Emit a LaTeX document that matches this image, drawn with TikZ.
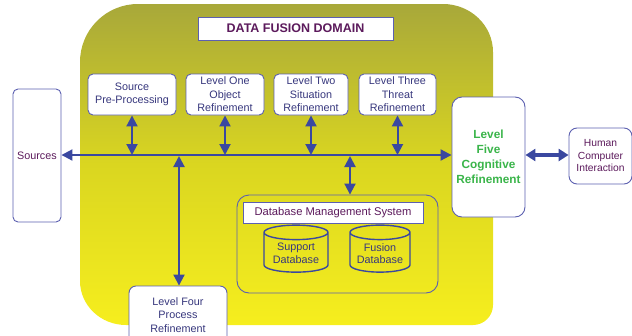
\documentclass[tikz,border=0pt]{standalone}
\usepackage{fontspec}
\setmainfont{Liberation Sans}
\usetikzlibrary{arrows.meta,shapes.geometric}
\definecolor{arrblue}{RGB}{58,72,160}
\definecolor{bordblue}{RGB}{92,96,176}
\definecolor{txtnavy}{RGB}{55,55,125}
\definecolor{ttlpurple}{RGB}{92,26,92}
\definecolor{lvgreen}{RGB}{58,181,74}
\definecolor{olive}{RGB}{168,168,58}
\definecolor{midyel}{RGB}{218,214,32}
\definecolor{brightyel}{RGB}{246,238,30}
\tikzset{
  box/.style={draw=bordblue, line width=0.9pt, fill=white, rounded corners=5pt,
    align=center, font=\fontsize{10.8}{13.5}\selectfont, text=txtnavy, inner sep=1pt},
  dblarrow/.style={draw=arrblue, line width=2pt,
    {Triangle[width=11pt,length=11pt]}-{Triangle[width=11pt,length=11pt]}},
  dbcyl/.style={cylinder, shape border rotate=90, draw=arrblue, line width=1.4pt,
    aspect=0.3, minimum width=64pt, minimum height=47pt, align=center,
    font=\fontsize{10.8}{12.5}\selectfont, text=txtnavy, inner sep=1pt}
}
\begin{document}
\begin{tikzpicture}[x=1pt,y=-1pt]
\useasboundingbox (0,0) rectangle (632,335);
% domain background
\shade[top color=olive, bottom color=brightyel, middle color=midyel]
  (80,62) arc[start angle=180,end angle=90,x radius=58,y radius=-58] -- (443,4)
  arc[start angle=90,end angle=0,x radius=50,y radius=-48] -- (493,305)
  arc[start angle=0,end angle=-90,x radius=20,y radius=-20] -- (126,325)
  arc[start angle=-90,end angle=-180,x radius=46,y radius=-44] -- cycle;
% title
\node[draw=bordblue, line width=0.9pt, fill=white, minimum width=195pt, minimum height=23pt,
  font=\fontsize{12.5}{14}\selectfont\bfseries, text=ttlpurple] (title) at (295.5,28.5) {DATA FUSION DOMAIN};
% top boxes
\node[box, minimum width=88pt, minimum height=41pt] (pre) at (132,94.5) {Source\\Pre-Processing};
\node[box, minimum width=78pt, minimum height=41pt] (l1) at (225,94.5) {Level One\\Object\\Refinement};
\node[box, minimum width=74pt, minimum height=41pt] (l2) at (311,94.5) {Level Two\\Situation\\Refinement};
\node[box, minimum width=77pt, minimum height=41pt] (l3) at (397.5,94.5) {Level Three\\Threat\\Refinement};
% side boxes
\node[box, minimum width=48pt, minimum height=133pt, text=ttlpurple] (src) at (37,155.5) {Sources};
\node[box, rounded corners=10pt, minimum width=73pt, minimum height=120pt, text=lvgreen,
  font=\fontsize{11.8}{15}\selectfont\bfseries] (l5) at (488.5,157) {Level\\Five\\Cognitive\\Refinement};
\node[box, rounded corners=8pt, minimum width=63pt, minimum height=56pt, text=ttlpurple,
  font=\fontsize{10.3}{12.5}\selectfont] (hci) at (600.5,156) {Human\\Computer\\Interaction};
\node[box, rounded corners=7pt, minimum width=98pt, minimum height=58pt] (l4) at (178,315) {Level Four\\Process\\Refinement};
% DBMS
\node[draw=bordblue, line width=0.9pt, rounded corners=12pt, minimum width=201pt, minimum height=98pt] (dbms) at (337.5,244) {};
\node[draw=bordblue, line width=0.9pt, fill=white, minimum width=180pt, minimum height=21pt,
  font=\fontsize{11.2}{12}\selectfont, text=ttlpurple] (dbl) at (333,212.5) {Database Management System};
\node[dbcyl] (sup) at (296,253.5) {Support\\Database};
\node[dbcyl, minimum width=60pt] (fus) at (380,253.5) {Fusion\\Database};
% bus
\coordinate (busy) at (0,155);
\draw[dblarrow] (src.east |- busy) -- (l5.west |- busy);
\draw[dblarrow] (pre.south) -- (pre.south |- busy);
\draw[dblarrow] (l1.south) -- (l1.south |- busy);
\draw[dblarrow] (l2.south) -- (l2.south |- busy);
\draw[dblarrow] (l3.south) -- (l3.south |- busy);
\coordinate (l4tap) at (179,156);
\draw[dblarrow] (l4tap) -- (l4tap |- l4.north);
\coordinate (dbtap) at (350,156);
\draw[dblarrow] (dbtap) -- (dbtap |- dbms.north);
\draw[draw=arrblue, line width=3.2pt,
  {Triangle[width=12pt,length=10pt]}-{Triangle[width=12pt,length=10pt]}] (l5.east |- busy) -- (hci.west |- busy);
\end{tikzpicture}
\end{document}
